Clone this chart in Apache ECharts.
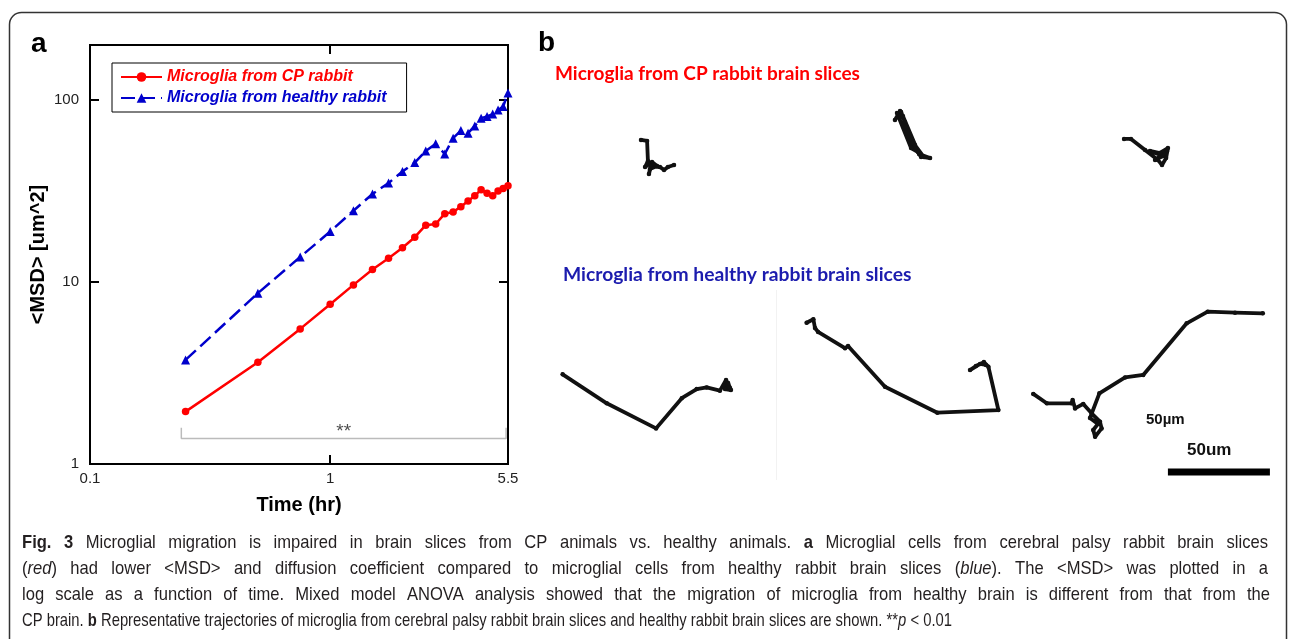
<!DOCTYPE html>
<html><head><meta charset="utf-8">
<script src="https://cdn.jsdelivr.net/npm/echarts@6/dist/echarts.min.js"></script>
<style>html,body{margin:0;padding:0;background:#fff}#c{width:1290px;height:639px}</style>
</head><body><div id="c"></div>
<script>
// ---------- Panel a data ----------
const timeHr = [0.25,0.5,0.75,1.0,1.25,1.5,1.75,2.0,2.25,2.5,2.75,3.0,3.25,3.5,3.75,4.0,4.25,4.5,4.75,5.0,5.25,5.5];
const msdCP = [1.94,3.62,5.52,7.54,9.63,11.7,13.5,15.4,17.6,20.5,20.8,23.7,24.2,25.9,27.8,29.7,32.1,30.7,29.7,31.6,32.6,33.7];
const msdHealthy = [3.73,8.67,13.7,18.9,24.6,30.4,34.9,40.4,45.2,52.4,57.3,50.4,61.6,67.8,65.6,71.9,79.3,81.0,83.5,87.8,91.9,109];
const seriesNames = ['Microglia from CP rabbit','Microglia from healthy rabbit'];
const xTickLabels = ['0.1','1','5.5'];
const yTickLabels = ['1','10','100'];
const sigBracketTime = [0.24, 5.4];
const sigBracketMSD = [1.38, 1.58];
const sigText = '**';

// ---------- Panel b data (trajectories, micrometres) ----------
const trajCP1 = [[49.5,171.6],[52.5,171.1],[52.9,161.3],[51.5,158.3],[54.9,160.8],[57.4,158.8],[53.9,157.4],[53.4,154.9],[54.4,158.8],[58.8,158.3],[60.8,156.9],[62.7,158.3],[65.7,159.3]];
const trajCP2 = [[174.0,181.4],[176.5,185.8],[183.8,169.1],[188.2,163.2],[191.2,162.7],[185.8,164.7],[177.9,183.3],[175.0,184.8],[181.9,167.6],[185.3,165.7],[178.9,180.4],[177.0,185.3],[182.4,170.1],[186.8,163.2]];
const trajCP3 = [[286.3,172.1],[289.7,172.1],[296.6,166.7],[302.9,161.8],[304.9,159.3],[306.9,162.7],[307.8,167.6],[303.9,165.2],[299.0,166.2],[305.4,163.7],[301.5,161.8],[307.4,166.2]];
const trajH1 = [[11.1,56.7],[32.7,42.5],[56.9,30.2],[69.5,45.0],[76.8,49.5],[81.7,50.3],[88.2,48.7],[91.2,53.9],[93.1,50.0],[90.2,51.0],[92.2,52.5],[93.6,49.0],[90.7,49.5]];
const trajH2 = [[130.7,82.0],[134.0,83.7],[134.8,79.4],[136.3,77.5],[149.5,69.5],[151.0,70.6],[169.1,50.6],[194.8,37.9],[224.7,39.2],[219.8,60.4],[217.6,62.7],[213.7,60.8],[210.8,58.8],[215.7,61.8],[218.6,61.3]];
const trajH3 = [[241.8,47.1],[248.4,42.5],[260.6,42.5],[261.1,44.1],[262.3,40.0],[266.3,42.2],[270.4,37.6],[274.5,33.5],[275.3,30.2],[272.1,26.1],[271.2,29.4],[273.5,32.4],[269.6,35.3],[274.2,47.4],[286.8,55.2],[295.7,56.4],[317.0,81.7],[327.3,87.4],[340.7,86.9],[354.3,86.6]];
const scaleBarUm = 50;
const scaleBarStart = [307.8, 8.8];

const titleCP = 'Microglia from CP rabbit brain slices';
const titleHealthy = 'Microglia from healthy rabbit brain slices';

const captionLines = [
  '{b|Fig.} {b|3} Microglial migration is impaired in brain slices from CP animals vs. healthy animals. {b|a} Microglial cells from cerebral palsy rabbit brain slices',
  '({i|red}) had lower <MSD> and diffusion coefficient compared to microglial cells from healthy rabbit brain slices ({i|blue}). The <MSD> was plotted in a',
  'log scale as a function of time. Mixed model ANOVA analysis showed that the migration of microglia from healthy brain is different from that from the',
  'CP brain. {b|b} Representative trajectories of microglia from cerebral palsy rabbit brain slices and healthy rabbit brain slices are shown. **{i|p} < 0.01'
];
const captionLineWidths = [1246, 1246, 1248, 930];
const captionJustified = [true, true, true, false];

// ---------- build ----------
const ARIAL = "'Liberation Sans', Arial, sans-serif";
const CAL = "Lato, 'Open Sans', sans-serif";
const CAPFONT = "'Liberation Sans'";
const CAPSIZE = 19;
const pxPerUm = 2.04;
const gbLeft = 540, gbTop = 60, gbW = 750, gbH = 430;

function logLabel(list){
  return function(v){
    for (const s of list){ if (Math.abs(Math.log10(v) - Math.log10(parseFloat(s))) < 1e-4) return s; }
    return '';
  };
}
const pair = (xs, ys) => xs.map((x,i)=>[x, ys[i]]);

const mctx = document.createElement('canvas').getContext('2d');
function richWidth(line){
  let w = 0, last = 0; const re = /\{(b|i)\|([^}]*)\}/g; let m;
  const plain = s => { mctx.font = CAPSIZE + 'px ' + CAPFONT; return mctx.measureText(s).width; };
  while ((m = re.exec(line))){
    w += plain(line.slice(last, m.index));
    mctx.font = (m[1]==='b' ? 'bold ' : 'italic ') + CAPSIZE + 'px ' + CAPFONT;
    w += mctx.measureText(m[2]).width;
    last = re.lastIndex;
  }
  w += plain(line.slice(last));
  return w;
}

const axisCommon = {
  axisLine:{show:true, lineStyle:{color:'#000', width:2}},
  axisTick:{show:true, inside:true, length:9, lineStyle:{color:'#000', width:2}},
  splitLine:{show:false}, minorTick:{show:false}
};

const trajSeries = [trajCP1,trajCP2,trajCP3,trajH1,trajH2,trajH3].map((d,i)=>({
  type:'line', name:'traj'+i, xAxisIndex:2, yAxisIndex:2, data:d,
  symbol:'circle', symbolSize:4.5, showSymbol:true,
  itemStyle:{color:'#111'}, lineStyle:{color:'#111', width:3.8, join:'round', cap:'round'},
  silent:true, z:3
}));

const graphics = [
  {type:'rect', shape:{x:9.5, y:12.5, width:1277, height:700, r:12}, style:{fill:'none', stroke:'#333', lineWidth:1.5}, z:-1},
  {type:'line', shape:{x1:776.5, y1:290, x2:776.5, y2:480}, style:{stroke:'#f2f2f2', lineWidth:1}, z:-1},
  {type:'text', x:31, y:30, style:{text:'a', fontFamily:ARIAL, fontWeight:'bold', fontSize:28, fill:'#000'}},
  {type:'text', x:538, y:29, style:{text:'b', fontFamily:ARIAL, fontWeight:'bold', fontSize:28, fill:'#000'}},
  {type:'text', x:555, y:64, style:{text:titleCP, fontFamily:CAL, fontWeight:'bold', fontSize:19, fill:'#ff0000'}},
  {type:'text', x:563, y:265, style:{text:titleHealthy, fontFamily:CAL, fontWeight:'bold', fontSize:19.3, fill:'#1c1cae'}},
  {type:'text', x:1146, y:412, style:{text:'50µm', fontFamily:ARIAL, fontWeight:'bold', fontSize:15, fill:'#111'}},
  {type:'text', x:1187, y:442, style:{text:'50um', fontFamily:ARIAL, fontWeight:'bold', fontSize:17, fill:'#111'}}
];

// caption: condensed text; last line unjustified, the others justified to the block width
const baseScale = captionLineWidths[3] / richWidth(captionLines[3]);
const capRich = { b:{fontFamily:CAPFONT, fontSize:CAPSIZE, fontWeight:'bold', fill:'#231f20'},
                  i:{fontFamily:CAPFONT, fontSize:CAPSIZE, fontStyle:'italic', fill:'#231f20'} };
mctx.font = CAPSIZE + 'px ' + CAPFONT;
const spaceRaw = mctx.measureText(' ').width;
captionLines.forEach((t,li)=>{
  const sc = captionJustified[li] ? baseScale * 1.12 : baseScale;
  const words = t.split(' ');
  const ws = words.map(w => richWidth(w) * sc);
  const total = ws.reduce((a,b)=>a+b, 0);
  const gap = captionJustified[li] ? (captionLineWidths[li] - total) / (words.length - 1) : spaceRaw * sc;
  let x = 22;
  words.forEach((w,wi)=>{
    graphics.push({type:'text', x:x, y:533 + li*26, scaleX:sc, style:{
      text:w, fontFamily:CAPFONT, fontSize:CAPSIZE, fill:'#231f20', rich:capRich }});
    x += ws[wi] + gap;
  });
});

const option = {
  animation:false,
  backgroundColor:'#fff',
  grid:[
    {left:90, top:45, width:418, height:419, show:true, borderColor:'#000', borderWidth:2, backgroundColor:'transparent'},
    {left:gbLeft, top:gbTop, width:gbW, height:gbH, show:false}
  ],
  xAxis:[
    Object.assign({type:'log', gridIndex:0, min:0.1, max:5.5, position:'bottom',
      axisLabel:{formatter:logLabel(xTickLabels), color:'#222', fontFamily:ARIAL, fontSize:15, margin:7, showMinLabel:true, showMaxLabel:true, hideOverlap:false},
      name:'Time (hr)', nameLocation:'middle', nameGap:31,
      nameTextStyle:{fontFamily:ARIAL, fontWeight:'bold', fontSize:20, color:'#000'}}, axisCommon),
    Object.assign({type:'log', gridIndex:0, min:0.1, max:5.5, position:'top', axisLabel:{show:false}}, axisCommon),
    {type:'value', gridIndex:1, min:0, max:gbW/pxPerUm, show:false}
  ],
  yAxis:[
    Object.assign({type:'log', gridIndex:0, min:1, max:200, position:'left',
      axisLabel:{formatter:logLabel(yTickLabels), color:'#222', fontFamily:ARIAL, fontSize:15, margin:11, showMinLabel:true, showMaxLabel:true, hideOverlap:false},
      name:'<MSD> [um^2]', nameLocation:'middle', nameGap:42, nameRotate:90,
      nameTextStyle:{fontFamily:ARIAL, fontWeight:'bold', fontSize:20, color:'#000'}}, axisCommon),
    Object.assign({type:'log', gridIndex:0, min:1, max:200, position:'right', axisLabel:{show:false}}, axisCommon),
    {type:'value', gridIndex:1, min:0, max:gbH/pxPerUm, show:false}
  ],
  legend:{
    data:[
      {name:seriesNames[0], textStyle:{color:'#ff0000'}},
      {name:seriesNames[1], textStyle:{color:'#0000cc'}}
    ],
    orient:'vertical', left:112, top:63,
    padding:[6,20,6,8], itemGap:5, itemWidth:41, itemHeight:12,
    borderColor:'#000', borderWidth:1, borderRadius:0, backgroundColor:'#fff',
    textStyle:{fontFamily:ARIAL, fontWeight:'bold', fontStyle:'italic', fontSize:16},
    selectedMode:false
  },
  series:[
    {type:'line', name:seriesNames[0], xAxisIndex:0, yAxisIndex:0, data:pair(timeHr, msdCP),
      symbol:'circle', symbolSize:7.5, itemStyle:{color:'#ff0000'}, lineStyle:{color:'#ff0000', width:2.5}, z:4},
    {type:'line', name:seriesNames[1], xAxisIndex:0, yAxisIndex:0, data:pair(timeHr, msdHealthy),
      symbol:'triangle', symbolSize:9, itemStyle:{color:'#0000cc'}, lineStyle:{color:'#0000cc', width:2.5, type:[14,6]}, z:4},
    {type:'line', name:'bracket', xAxisIndex:0, yAxisIndex:0,
      data:[[sigBracketTime[0],sigBracketMSD[1]],[sigBracketTime[0],sigBracketMSD[0]],[sigBracketTime[1],sigBracketMSD[0]],[sigBracketTime[1],sigBracketMSD[1]]],
      symbol:'none', lineStyle:{color:'#bbb', width:1.5}, silent:true, z:2},
    {type:'scatter', name:'sig', xAxisIndex:0, yAxisIndex:0,
      data:[[Math.sqrt(sigBracketTime[0]*sigBracketTime[1]), sigBracketMSD[0]]],
      symbolSize:0, label:{show:true, position:'top', distance:-3, formatter:sigText, color:'#222', fontFamily:ARIAL, fontSize:19}, silent:true},
    {type:'line', name:'scalebar', xAxisIndex:2, yAxisIndex:2,
      data:[scaleBarStart, [scaleBarStart[0]+scaleBarUm, scaleBarStart[1]]],
      symbol:'none', lineStyle:{color:'#000', width:7, cap:'butt'}, silent:true}
  ].concat(trajSeries),
  graphic:graphics
};
const chart = echarts.init(document.getElementById('c'), null, {renderer:'canvas'});
chart.setOption(option);
</script>
</body></html>
